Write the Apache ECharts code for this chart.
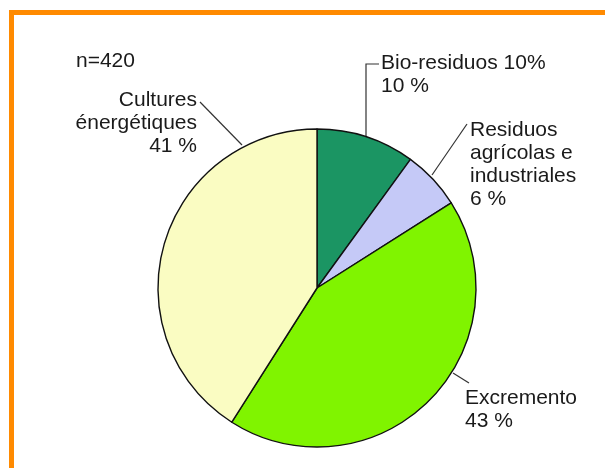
<!DOCTYPE html>
<html>
<head>
<meta charset="utf-8">
<script src="https://cdn.jsdelivr.net/npm/echarts@6/dist/echarts.min.js"></script>
<style>
  html, body { margin: 0; padding: 0; background: #fff; }
  #wrap { position: relative; width: 605px; height: 468px; overflow: hidden; }
  #chart { position: absolute; left: 0; top: 0; width: 605px; height: 468px; }
  #frame { position: absolute; left: 9px; top: 10px; width: 700px; height: 600px;
           border-top: 5px solid #ff8a00; border-left: 5px solid #ff8a00; pointer-events: none; }
</style>
</head>
<body>
<div id="wrap"><div id="chart"></div><div id="frame"></div></div>
<script>
// Data
const categories = ['Bio-residuos 10%', 'Residuos\nagrícolas e\nindustriales', 'Excremento', 'Cultures\nénergétiques'];
const values = [10, 6, 43, 41];
const sampleLabel = 'n=420';

const colors = ['#1b9563', '#c5c9f7', '#80f400', '#fafcc2'];

// label placement (annotation layout)
const labelPlacement = [
  { x: 381, y: 52, align: 'left', line: [[366, 137], [366, 64], [379, 64]] },
  { x: 470, y: 119, align: 'left', line: [[432, 175], [467, 124]] },
  { x: 465, y: 387, align: 'left', line: [[453, 373], [469, 383]] },
  { x: 197, y: 89, align: 'right', line: [[242, 145], [200, 102]] }
];

const chart = echarts.init(document.getElementById('chart'), null, { renderer: 'canvas' });
const font = '"Liberation Sans", Arial, sans-serif';

chart.setOption({
  animation: false,
  backgroundColor: 'transparent',
  title: {
    text: sampleLabel,
    left: 71,
    top: 46,
    textStyle: { fontFamily: font, fontSize: 21, fontWeight: 'normal', color: '#1a1a1a' }
  },
  series: [{
    type: 'pie',
    center: [317, 288],
    radius: 159,
    startAngle: 90,
    clockwise: true,
    avoidLabelOverlap: false,
    itemStyle: { borderColor: '#111', borderWidth: 1.4 },
    label: {
      show: true,
      position: 'outside',
      fontFamily: font,
      fontSize: 21,
      lineHeight: 23,
      color: '#1a1a1a',
      formatter: p => p.name + '\n' + p.value + ' %'
    },
    labelLine: { show: true, length: 10, length2: 10, lineStyle: { color: '#333', width: 1.2 } },
    labelLayout: function (params) {
      const pl = labelPlacement[params.dataIndex];
      return {
        x: pl.x, y: pl.y, align: pl.align, verticalAlign: 'top',
        labelLinePoints: pl.line.length === 3 ? pl.line : [pl.line[0], pl.line[0], pl.line[1]]
      };
    },
    data: categories.map((c, i) => ({ name: c, value: values[i], itemStyle: { color: colors[i] } }))
  }]
});
</script>
</body>
</html>
